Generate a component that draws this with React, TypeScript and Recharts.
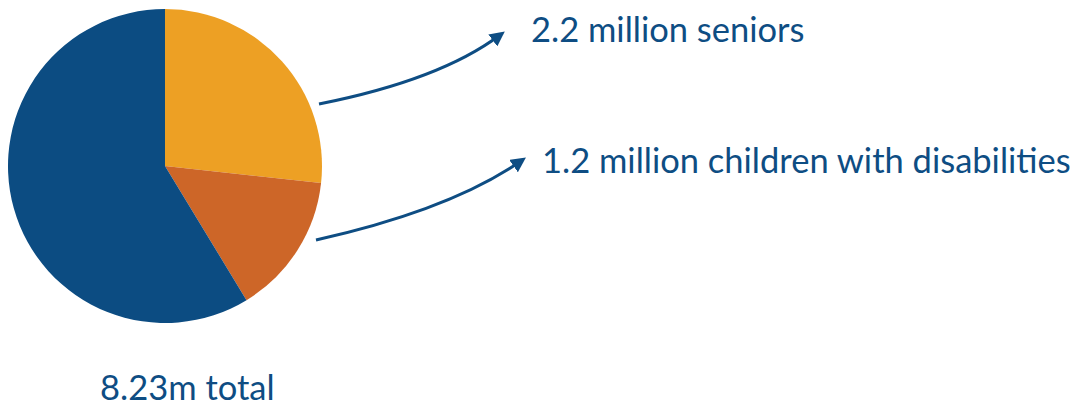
import { PieChart, Pie, Cell } from "recharts";

// Population split (millions)
const segments = ["Seniors", "Children with disabilities", "Everyone else"];
const values = [2.2, 1.2, 4.83];
const colors = ["#EDA024", "#CD6628", "#0C4C82"];

// Callout text
const callouts = ["2.2 million seniors", "1.2 million children with disabilities"];
const totalLabel = "8.23m total";

const INK = "#0E4D83";
const FONT = "Lato, 'Open Sans', sans-serif";

const data = segments.map((name, i) => ({ name, value: values[i] }));

export default function App() {
  return (
    <div style={{ width: 1075, height: 406, background: "#fff" }}>
      <style>{"body{margin:0}"}</style>
      <PieChart width={1075} height={406} margin={{ top: 0, right: 0, bottom: 0, left: 0 }}>
        <defs>
          <marker
            id="arrowHead"
            viewBox="0 0 10 10"
            refX="6"
            refY="5"
            markerWidth="5"
            markerHeight="5"
            orient="auto"
          >
            <path d="M0,0 L10,5 L0,10 z" fill={INK} />
          </marker>
        </defs>
        <Pie
          data={data}
          dataKey="value"
          cx={165}
          cy={166}
          outerRadius={157}
          startAngle={90}
          endAngle={-270}
          stroke="none"
          isAnimationActive={false}
        >
          {data.map((_d, i) => (
            <Cell key={`cell-${i}`} fill={colors[i]} />
          ))}
        </Pie>
        <path
          d="M319,104 Q440,80 500,35"
          fill="none"
          stroke={INK}
          strokeWidth={3}
          markerEnd="url(#arrowHead)"
        />
        <path
          d="M316,240 Q450,210 521,161"
          fill="none"
          stroke={INK}
          strokeWidth={3}
          markerEnd="url(#arrowHead)"
        />
        <text x={531} y={42} fill={INK} fontFamily={FONT} fontSize={34.5}>
          {callouts[0]}
        </text>
        <text x={542} y={173} fill={INK} fontFamily={FONT} fontSize={34.5}>
          {callouts[1]}
        </text>
        <text x={100} y={400} fill={INK} fontFamily={FONT} fontSize={34.5}>
          {totalLabel}
        </text>
      </PieChart>
    </div>
  );
}
